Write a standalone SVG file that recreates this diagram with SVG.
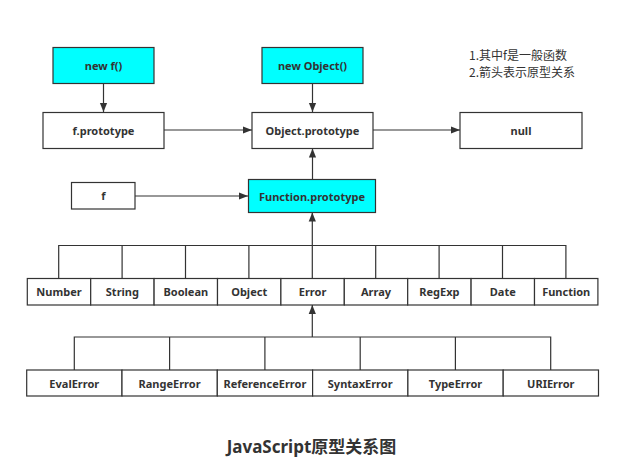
<svg xmlns="http://www.w3.org/2000/svg" width="642" height="464" viewBox="0 0 642 464">
<defs>
<marker id="ah" viewBox="0 0 10 10" refX="10" refY="5" markerWidth="9" markerHeight="9" markerUnits="userSpaceOnUse" orient="auto">
<path d="M0,1 L10,5 L0,9 Z" fill="#333"/>
</marker>
</defs>
<style>
.b{fill:#fff;stroke:#333;stroke-width:1.2}
.c{fill:#00ffff;stroke:#333;stroke-width:1.2}
.t{font-family:"Noto Sans","Noto Sans CJK SC",sans-serif;font-size:11px;font-weight:bold;fill:#333;text-anchor:middle;dominant-baseline:central}
.l{fill:none;stroke:#333;stroke-width:1.2}
.n{font-family:"Noto Sans CJK SC","Noto Sans",sans-serif;font-size:12px;fill:#333}
</style>
<rect width="642" height="464" fill="#fff"/>
<g id="connectors">
<line class="l" x1="103.5" y1="83" x2="103.5" y2="112" marker-end="url(#ah)"/>
<line class="l" x1="312.5" y1="83" x2="312.5" y2="112" marker-end="url(#ah)"/>
<line class="l" x1="164" y1="130" x2="252" y2="130" marker-end="url(#ah)"/>
<line class="l" x1="373" y1="130" x2="460" y2="130" marker-end="url(#ah)"/>
<line class="l" x1="135" y1="196" x2="248" y2="196" marker-end="url(#ah)"/>
<line class="l" x1="312.5" y1="179" x2="312.5" y2="148.5" marker-end="url(#ah)"/>
<path class="l" d="M58.7,278 V245.5 H565.9 V278 M122.1,245.5 V278 M185.5,245.5 V278 M248.9,245.5 V278 M312.3,245.5 V278 M375.7,245.5 V278 M439.1,245.5 V278 M502.5,245.5 V278"/>
<line class="l" x1="312.3" y1="245.5" x2="312.3" y2="212.5" marker-end="url(#ah)"/>
<path class="l" d="M74.3,370 V337 H550.7 V370 M169.6,337 V370 M264.9,337 V370 M360.2,337 V370 M455.4,337 V370"/>
<line class="l" x1="312.3" y1="337" x2="312.3" y2="305" marker-end="url(#ah)"/>
</g>
<g id="newf"><rect class="c" x="53" y="47.5" width="101" height="36"/><text class="t" x="103.5" y="65.5">new f()</text></g>
<g id="newObject"><rect class="c" x="262" y="47.5" width="101" height="36"/><text class="t" x="312.5" y="65.5">new Object()</text></g>
<g id="fprototype"><rect class="b" x="43" y="112.5" width="121" height="36"/><text class="t" x="103.5" y="130.5">f.prototype</text></g>
<g id="Objectprototype"><rect class="b" x="252" y="112.5" width="121" height="36"/><text class="t" x="312.5" y="130.5">Object.prototype</text></g>
<g id="null"><rect class="b" x="460" y="112.5" width="122" height="36"/><text class="t" x="521" y="130.5">null</text></g>
<g id="f"><rect class="b" x="71.5" y="182.5" width="63.5" height="26.5"/><text class="t" x="103.3" y="195.8">f</text></g>
<g id="Functionprototype"><rect class="c" x="248.5" y="179.5" width="127" height="33"/><text class="t" x="312" y="196">Function.prototype</text></g>
<g id="notes"><text class="n" x="469" y="60">1.其中f是一般函数</text><text class="n" x="469" y="77">2.箭头表示原型关系</text></g>
<g id="Number"><rect class="b" x="27.3" y="278.5" width="63.4" height="26.5"/><text class="t" x="59" y="291.8">Number</text></g>
<g id="String"><rect class="b" x="90.7" y="278.5" width="63.4" height="26.5"/><text class="t" x="122.4" y="291.8">String</text></g>
<g id="Boolean"><rect class="b" x="154.1" y="278.5" width="63.4" height="26.5"/><text class="t" x="185.8" y="291.8">Boolean</text></g>
<g id="Object"><rect class="b" x="217.5" y="278.5" width="63.4" height="26.5"/><text class="t" x="249.2" y="291.8">Object</text></g>
<g id="Error"><rect class="b" x="280.9" y="278.5" width="63.4" height="26.5"/><text class="t" x="312.6" y="291.8">Error</text></g>
<g id="Array"><rect class="b" x="344.3" y="278.5" width="63.4" height="26.5"/><text class="t" x="376" y="291.8">Array</text></g>
<g id="RegExp"><rect class="b" x="407.7" y="278.5" width="63.4" height="26.5"/><text class="t" x="439.4" y="291.8">RegExp</text></g>
<g id="Date"><rect class="b" x="471.1" y="278.5" width="63.4" height="26.5"/><text class="t" x="502.8" y="291.8">Date</text></g>
<g id="Function"><rect class="b" x="534.5" y="278.5" width="63.4" height="26.5"/><text class="t" x="566.2" y="291.8">Function</text></g>
<g id="EvalError"><rect class="b" x="26.7" y="370" width="95.3" height="26"/><text class="t" x="74.3" y="383">EvalError</text></g>
<g id="RangeError"><rect class="b" x="122" y="370" width="95.3" height="26"/><text class="t" x="169.6" y="383">RangeError</text></g>
<g id="ReferenceError"><rect class="b" x="217.3" y="370" width="95.3" height="26"/><text class="t" x="264.9" y="383">ReferenceError</text></g>
<g id="SyntaxError"><rect class="b" x="312.6" y="370" width="95.3" height="26"/><text class="t" x="360.2" y="383">SyntaxError</text></g>
<g id="TypeError"><rect class="b" x="407.9" y="370" width="95.3" height="26"/><text class="t" x="455.5" y="383">TypeError</text></g>
<g id="URIError"><rect class="b" x="503.2" y="370" width="95.3" height="26"/><text class="t" x="550.8" y="383">URIError</text></g>
<g id="title"><text x="311.5" y="453" style="font-family:'Noto Sans','Noto Sans CJK SC',sans-serif;font-size:17px;font-weight:bold;fill:#333;text-anchor:middle">JavaScript原型关系图</text></g>
</svg>
